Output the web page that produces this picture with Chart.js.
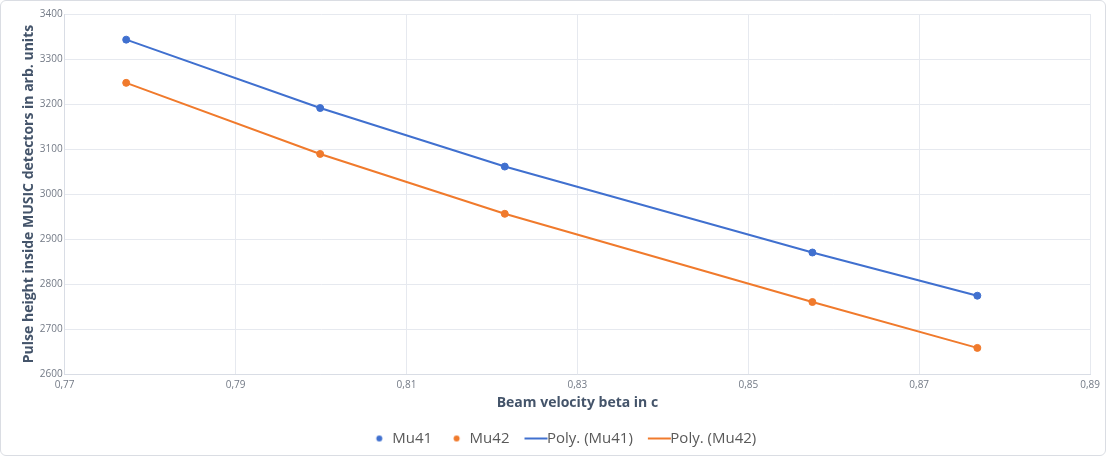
<!DOCTYPE html>
<html>
<head>
<meta charset="utf-8">
<script src="https://cdn.jsdelivr.net/npm/chart.js@4.4.0/dist/chart.umd.min.js"></script>
<style>
    html, body { margin: 0; padding: 0; background: #fff; }
    #wrap {
        position: relative;
        width: 1106px;
        height: 456px;
    }
    #wrap::after {
        content: "";
        position: absolute;
        left: 0; top: 0; right: 0; bottom: 0;
        border: 1px solid #dadde3;
        border-radius: 6px;
        pointer-events: none;
    }
</style>
</head>
<body>
<div id="wrap"><canvas id="beamChart"></canvas></div>
<script>
// Data
const mu41Beta = [0.7772, 0.7999, 0.8215, 0.8575, 0.8768];
const mu41Pulse = [3343, 3191, 3061, 2870, 2774];
const mu42Beta = [0.7772, 0.7999, 0.8215, 0.8575, 0.8768];
const mu42Pulse = [3247, 3089, 2956, 2760, 2658];

const seriesNames = ["Mu41", "Mu42", "Poly. (Mu41)", "Poly. (Mu42)"];
const blue = "#4070cf";
const orange = "#f07a2c";

const toPoints = (xs, ys) => xs.map((x, i) => ({ x: x, y: ys[i] }));

// Small images for the legend markers (drawn centred on the legend box)
const makeMarker = (color, kind) => {
    const c = document.createElement("canvas");
    c.width = 40;
    c.height = 10;
    const g = c.getContext("2d");
    g.fillStyle = color;
    g.strokeStyle = color;
    if (kind === "dot") {
        g.beginPath();
        g.arc(22.5, 5, 3, 0, Math.PI * 2);
        g.fill();
    } else {
        g.lineWidth = 2;
        g.beginPath();
        g.moveTo(13, 5);
        g.lineTo(36, 5);
        g.stroke();
    }
    return c;
};
const markers = [
    makeMarker(blue, "dot"),
    makeMarker(orange, "dot"),
    makeMarker(blue, "line"),
    makeMarker(orange, "line"),
];

const commaTick = (v) => v.toFixed(2).replace(".", ",");

new Chart(document.getElementById("beamChart"), {
    type: "scatter",
    data: {
        datasets: [
            {
                label: seriesNames[0],
                data: toPoints(mu41Beta, mu41Pulse),
                backgroundColor: blue,
                borderColor: blue,
                pointRadius: 3.5,
                showLine: false,
                order: 0,
            },
            {
                label: seriesNames[1],
                data: toPoints(mu42Beta, mu42Pulse),
                backgroundColor: orange,
                borderColor: orange,
                pointRadius: 3.5,
                showLine: false,
                order: 0,
            },
            {
                label: seriesNames[2],
                data: toPoints(mu41Beta, mu41Pulse),
                borderColor: blue,
                borderWidth: 2,
                pointRadius: 0,
                showLine: true,
                order: 1,
            },
            {
                label: seriesNames[3],
                data: toPoints(mu42Beta, mu42Pulse),
                borderColor: orange,
                borderWidth: 2,
                pointRadius: 0,
                showLine: true,
                order: 1,
            },
        ],
    },
    options: {
        responsive: true,
        maintainAspectRatio: false,
        animation: false,
        layout: { padding: { top: 14, right: 2, bottom: 0, left: 21 } },
        scales: {
            x: {
                type: "linear",
                min: 0.77,
                max: 0.89,
                ticks: {
                    stepSize: 0.02,
                    callback: (v) => commaTick(v),
                    color: "#737a86",
                    font: { family: "Open Sans", size: 10, lineHeight: 1 },
                    padding: 6,
                },
                grid: { color: "#e6e9ef", drawTicks: false },
                border: { color: "#d9dde5" },
                title: {
                    display: true,
                    text: "Beam velocity beta in c",
                    color: "#44546a",
                    font: { family: "Open Sans", size: 14, weight: "bold", lineHeight: 1 },
                    padding: { top: 0, bottom: 7 },
                },
            },
            y: {
                min: 2600,
                max: 3400,
                ticks: {
                    stepSize: 100,
                    callback: (v) => String(v),
                    color: "#737a86",
                    font: { family: "Open Sans", size: 10 },
                    padding: 2,
                },
                grid: { color: "#e6e9ef", drawTicks: false },
                border: { color: "#d9dde5" },
                title: {
                    display: true,
                    text: "Pulse height inside MUSIC detectors in arb. units",
                    color: "#44546a",
                    font: { family: "Open Sans", size: 14, weight: "bold" },
                    padding: { top: 0, bottom: 0 },
                },
            },
        },
        plugins: {
            tooltip: { enabled: false },
            legend: {
                position: "bottom",
                labels: {
                    usePointStyle: true,
                    boxWidth: 16,
                    boxHeight: 10,
                    pointStyleWidth: 16,
                    padding: 14,
                    color: "#595959",
                    font: { family: "Open Sans", size: 15 },
                    generateLabels: (chart) =>
                        chart.data.datasets.map((ds, i) => ({
                            text: ds.label,
                            pointStyle: markers[i],
                            fillStyle: "transparent",
                            strokeStyle: "transparent",
                            fontColor: "#595959",
                            lineWidth: 0,
                            datasetIndex: i,
                            hidden: false,
                        })),
                },
            },
        },
    },
});
</script>
</body>
</html>
